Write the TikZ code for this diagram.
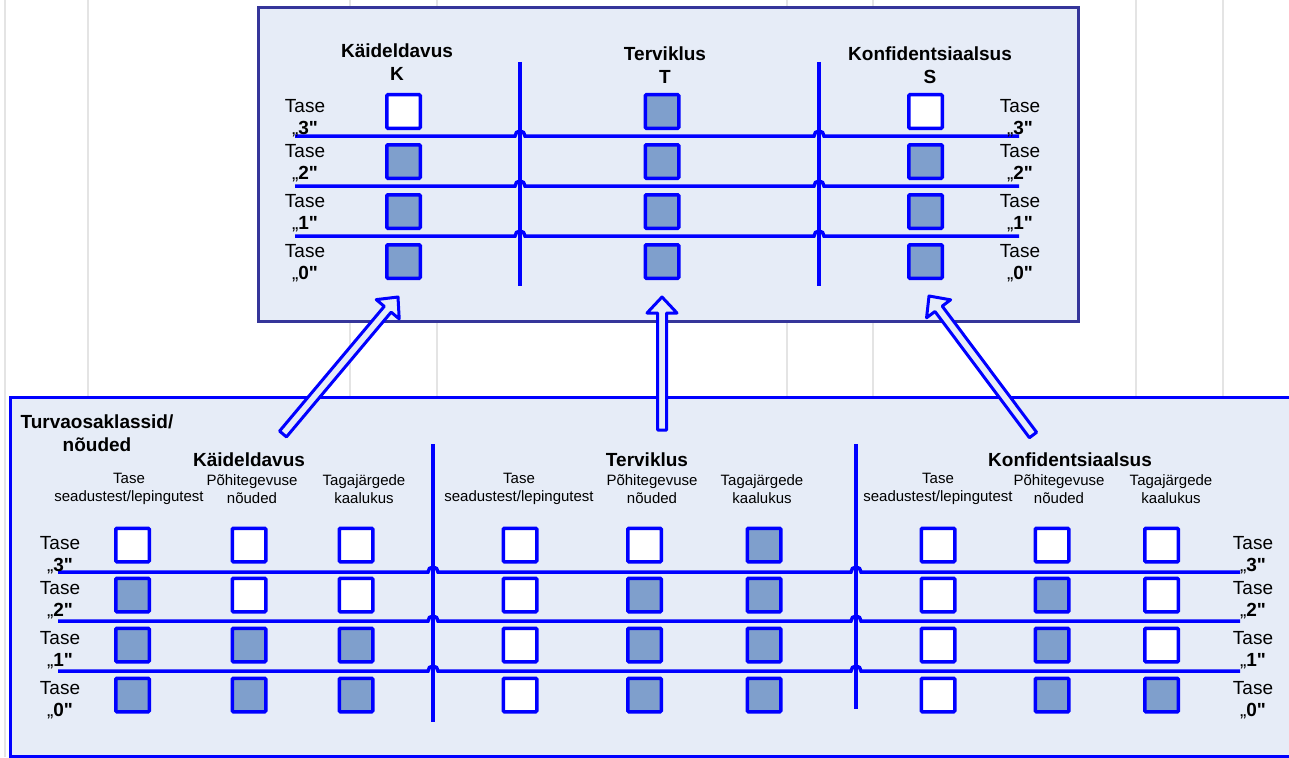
\documentclass[tikz,border=0pt]{standalone}
\usepackage{fontspec}
\setmainfont{Liberation Sans}[Ligatures=TeXOff]
\usetikzlibrary{calc}

\definecolor{lv0}{HTML}{FFFFFF}
\definecolor{lv1}{HTML}{7F9FCC}
\definecolor{boxfill}{HTML}{E6ECF7}
\definecolor{topframe}{HTML}{35359A}
\definecolor{gridgray}{HTML}{E4E4E4}

\tikzset{
  lvlbox/.style={draw=blue, line width=3.5, fill=lv#1, minimum size=33.5, inner sep=0, rounded corners=1},
  hopline/.style={draw=blue, line width=3.5},
  lbl/.style={align=center, inner sep=0, font=\fontsize{19}{22}\selectfont},
  colhead/.style={align=center, inner sep=0, font=\fontsize{19}{23}\selectfont\bfseries},
  subhead/.style={align=center, inner sep=0, font=\fontsize{15}{18}\selectfont},
  blockarr/.style={draw=blue, line width=3, fill=boxfill, line join=round},
}

% one column of level boxes, level 3 on top
\newcommand{\lvlcol}[4]{%
  \foreach \fl [count=\r from 0] in {#4}{
    \pgfmathtruncatemacro{\lv}{3-\r}
    \node[lvlbox=\fl] (#1\lv) at (#2,{#3+50*\r}) {};
  }
}

% hollow block arrow from foot #1 to tip #2
\newcommand{\blockarrow}[2]{%
  \draw[blockarr] let \p1=($(#2)-(#1)$), \n1={atan2(\y1,\x1)}, \n2={veclen(\x1,\y1)} in
    [shift={(#1)}, rotate=\n1]
    (0,-4.5) -- (\n2-16,-4.5) -- (\n2-16,-15) -- (\n2,0) -- (\n2-16,15) -- (\n2-16,4.5) -- (0,4.5) -- cycle;
}

\begin{document}
\begin{tikzpicture}[x=1pt,y=-1pt]
\useasboundingbox (0,0) rectangle (1289,757);

%faint page grid behind everything
\foreach \gx in {5,88,350,437,787,873,1136,1223}
  \draw[gridgray, line width=2] (\gx,0) -- (\gx,757);

%top box: resulting class
\filldraw[fill=boxfill, draw=topframe, line width=3] (258,8) rectangle (1078,321);

\draw[hopline] (520,62) -- (520,286);
\draw[hopline] (819,62) -- (819,286);
\foreach \y in {136,186,236}
  \draw[hopline] (295,\y) -- (515,\y) arc[start angle=180, end angle=360, radius=5]
    -- (814,\y) arc[start angle=180, end angle=360, radius=5] -- (1019,\y);

\node[colhead] (hk) at (397,62) {Käideldavus\\K};
\node[colhead] (ht) at (665,65) {Terviklus\\T};
\node[colhead] (hs) at (930,65) {Konfidentsiaalsus\\S};

\lvlcol{uk}{403.5}{111.5}{0,1,1,1}
\lvlcol{ut}{662}{111.5}{1,1,1,1}
\lvlcol{us}{925.5}{111.5}{0,1,1,1}

\foreach \lv/\y in {3/118.5,2/163.5,1/213.5,0/263.5} {
  \node[lbl] (ul\lv) at (305,\y) {Tase\\„\textbf{\lv"}};
  \node[lbl] (ur\lv) at (1020,\y) {Tase\\„\textbf{\lv"}};
}

%bottom box: sub-classes / requirements
\filldraw[fill=boxfill, draw=blue, line width=3] (10,397) rectangle (1300,756.5);

\draw[hopline] (433,444) -- (433,722);
\draw[hopline] (856,444) -- (856,709);
\foreach \y in {572,621,671}
  \draw[hopline] (58,\y) -- (428,\y) arc[start angle=180, end angle=360, radius=5]
    -- (851,\y) arc[start angle=180, end angle=360, radius=5] -- (1240,\y);

\node[colhead] (turva) at (97,433) {Turvaosaklassid/\\nõuded};
\node[colhead] (lk) at (249,460) {Käideldavus};
\node[colhead] (lt) at (647,460) {Terviklus};
\node[colhead] (ls) at (1070,460) {Konfidentsiaalsus};

\foreach \g/\xa/\xb/\xc in {k/129/252/364, t/519/652/762, s/938/1059/1171} {
  \node[subhead] (sub\g1) at (\xa,489) {Tase\\seadustest/lepingutest};
  \node[subhead] (sub\g2) at (\xb,489) {Põhitegevuse\\nõuded};
  \node[subhead] (sub\g3) at (\xc,489) {Tagajärgede\\kaalukus};
}

\lvlcol{kl}{132.5}{545}{0,1,1,1}
\lvlcol{kp}{249}{545}{0,0,1,1}
\lvlcol{kt}{356}{545}{0,0,1,1}
\lvlcol{tl}{520}{545}{0,0,0,0}
\lvlcol{tp}{644.5}{545}{0,1,1,1}
\lvlcol{tt}{764}{545}{1,1,1,1}
\lvlcol{sl}{938}{545}{0,0,0,0}
\lvlcol{sp}{1052}{545}{0,1,1,1}
\lvlcol{sx}{1161.5}{545}{0,0,0,1}

\foreach \lv/\y in {3/555,2/600,1/650,0/700} {
  \node[lbl] (ll\lv) at (60,\y) {Tase\\„\textbf{\lv"}};
  \node[lbl] (lr\lv) at (1253,\y) {Tase\\„\textbf{\lv"}};
}

%arrows up to the top box
\coordinate (kfoot) at (283,434);
\coordinate (ktip) at (398,297);
\coordinate (tfoot) at (662,430);
\coordinate (ttip) at (662,297);
\coordinate (sfoot) at (1033,435);
\coordinate (stip) at (929,296);
\blockarrow{kfoot}{ktip}
\blockarrow{tfoot}{ttip}
\blockarrow{sfoot}{stip}

\end{tikzpicture}
\end{document}
